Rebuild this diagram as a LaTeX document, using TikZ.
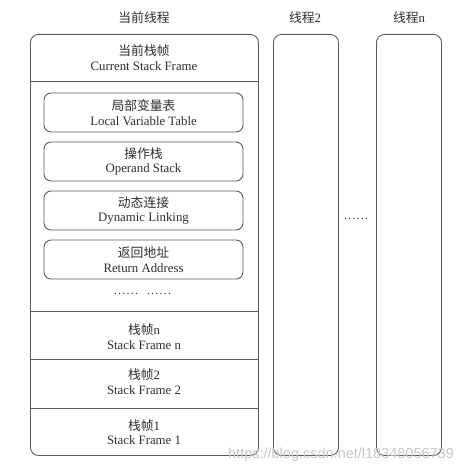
\documentclass[tikz,border=0pt]{standalone}
\usepackage{fontspec}
\setmainfont{Liberation Serif}
\newfontfamily\cjk{Noto Sans CJK SC}
\newfontfamily\wmfont{Liberation Sans}
\definecolor{linec}{HTML}{5A5A5A}
\definecolor{txtc}{HTML}{2E2E2E}
\begin{document}
\begin{tikzpicture}[x=1pt,y=-1pt]
\tikzset{
  thread/.style={draw=linec, line width=0.9pt, rounded corners=8pt, inner sep=0pt, anchor=north west},
  part/.style={draw=linec, line width=0.9pt, rounded corners=7pt, inner sep=0pt, minimum width=199pt, minimum height=39pt},
  lbl/.style={align=center, text=txtc, font=\fontsize{12.8}{14.5}\selectfont, inner sep=0pt},
  sep/.style={draw=linec, line width=0.9pt},
  dots/.style={text=txtc, font=\fontsize{12}{12}\selectfont, inner sep=0pt},
}
\useasboundingbox (0,0) rectangle (474,473);
% threads
\node[thread, minimum width=228pt, minimum height=421pt] (cur) at (30,34) {};
\node[thread, minimum width=65pt, minimum height=421pt] (th2) at (273,34) {};
\node[thread, minimum width=65pt, minimum height=421pt] (thn) at (376,34) {};
% titles
\node[lbl] (t1) at (144,18) {\cjk 当前线程};
\node[lbl] (t2) at (305,18) {\cjk 线程\rmfamily 2};
\node[lbl] (t3) at (409,18) {\cjk 线程\rmfamily n};
% dividers
\coordinate (d1l) at (cur.west |- 0,81);  \coordinate (d1r) at (cur.east |- 0,81);
\coordinate (d2l) at (cur.west |- 0,311); \coordinate (d2r) at (cur.east |- 0,311);
\coordinate (d3l) at (cur.west |- 0,359); \coordinate (d3r) at (cur.east |- 0,359);
\coordinate (d4l) at (cur.west |- 0,408); \coordinate (d4r) at (cur.east |- 0,408);
\draw[sep] (d1l) -- (d1r);
\draw[sep] (d2l) -- (d2r);
\draw[sep] (d3l) -- (d3r);
\draw[sep] (d4l) -- (d4r);
% current frame
\node[lbl] (cf) at (144,57.5) {{\cjk 当前栈帧}\\Current Stack Frame};
% inner parts
\node[part] (lvt) at (143.5,112.5) {};
\node[lbl] at (lvt.center) {{\cjk 局部变量表}\\Local Variable Table};
\node[part] (ops) at (143.5,161.5) {};
\node[lbl] at (ops.center) {{\cjk 操作栈}\\Operand Stack};
\node[part] (dyn) at (143.5,210.5) {};
\node[lbl] at (dyn.center) {{\cjk 动态连接}\\Dynamic Linking};
\node[part] (ret) at (143.5,259.5) {};
\node[lbl] at (ret.center) {{\cjk 返回地址}\\Return Address};
\node[dots] (dt1) at (126,294) {.\hspace{1.2pt}.\hspace{1.2pt}.\hspace{1.2pt}.\hspace{1.2pt}.\hspace{1.2pt}.};
\node[dots] (dt2) at (159,294) {.\hspace{1.2pt}.\hspace{1.2pt}.\hspace{1.2pt}.\hspace{1.2pt}.\hspace{1.2pt}.};
% stack frames
\node[lbl] (sfn) at (144,336.5) {{\cjk 栈帧}n\\Stack Frame n};
\node[lbl] (sf2) at (144,381.5) {{\cjk 栈帧}2\\Stack Frame 2};
\node[lbl] (sf1) at (144,432) {{\cjk 栈帧}1\\Stack Frame 1};
% between threads
\node[dots] (dt3) at (356,219) {.\hspace{1.2pt}.\hspace{1.2pt}.\hspace{1.2pt}.\hspace{1.2pt}.\hspace{1.2pt}.};
% watermark
\node[text=black!22, font=\wmfont\fontsize{14.5}{14.5}\selectfont, inner sep=0pt] (wm) at (341,455) {https://blog.csdn.net/l18348056739};
\end{tikzpicture}
\end{document}
